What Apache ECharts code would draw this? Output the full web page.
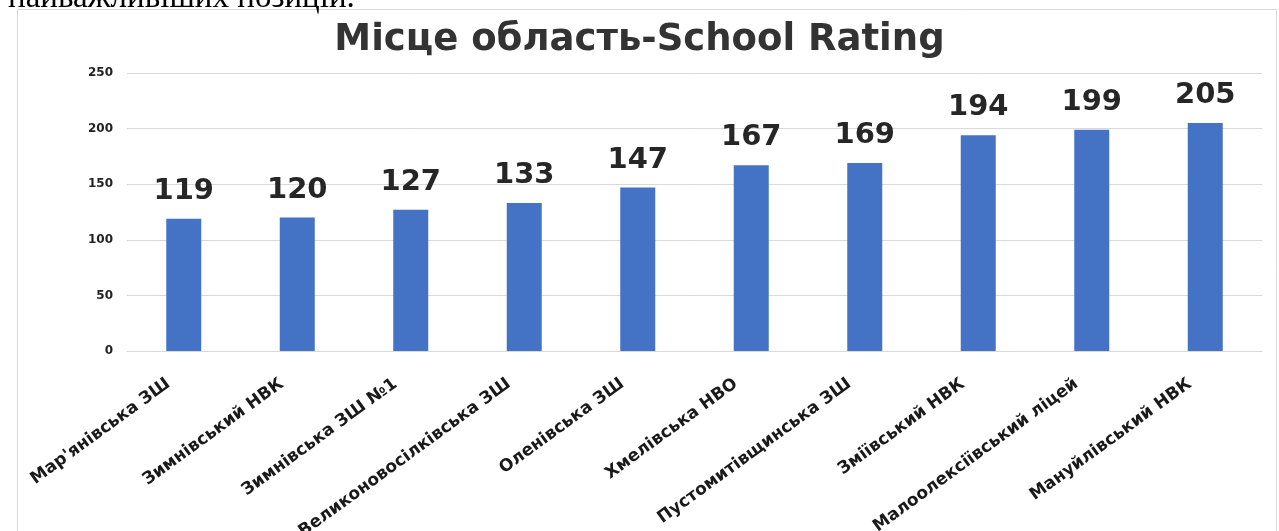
<!DOCTYPE html>
<html>
<head>
<meta charset="utf-8">
<script src="https://cdn.jsdelivr.net/npm/echarts@6/dist/echarts.min.js"></script>
<style>
  html, body { margin: 0; padding: 0; background: #fff; }
  #chart { width: 1279px; height: 531px; }
</style>
</head>
<body>
<div id="chart"></div>
<script>
// дані
const schools = [
  'Мар\'янівська ЗШ',
  'Зимнівський НВК',
  'Зимнівська ЗШ №1',
  'Великоновосілківська ЗШ',
  'Оленівська ЗШ',
  'Хмелівська НВО',
  'Пустомитівщинська ЗШ',
  'Зміївський НВК',
  'Малоолексіївський ліцей',
  'Мануйлівський НВК'
]
const rating = [119, 120, 127, 133, 147, 167, 169, 194, 199, 205]
const yTicks = [0, 50, 100, 150, 200, 250]

const chart = echarts.init(document.getElementById('chart'))

const option = {
  backgroundColor: '#fff',
  animation: false,
  title: {
    text: 'Місце область-School Rating',
    left: 'center',
    top: 17,
    textStyle: {
      fontFamily: 'DejaVu Sans',
      fontWeight: 'bold',
      fontSize: 37,
      color: '#333'
    }
  },
  graphic: [
    {
      type: 'text',
      left: 8,
      top: -18,
      style: {
        text: 'найважливіших позицій.',
        font: '33px "Liberation Serif"',
        fill: '#000'
      }
    },
    {
      type: 'rect',
      shape: { x: 17.5, y: 9.5, width: 1259, height: 540 },
      style: { fill: 'none', stroke: '#d9d9d9', lineWidth: 1 },
      z: -1
    }
  ],
  grid: {
    left: 127,
    right: 17,
    top: 73,
    bottom: 180,
    containLabel: false,
    outerBoundsMode: 'none'
  },
  xAxis: {
    type: 'category',
    data: schools,
    axisTick: { show: false },
    axisLine: { lineStyle: { color: '#d9d9d9' } },
    axisLabel: {
      interval: 0,
      rotate: 36,
      margin: 20,
      padding: [0, 19, 0, 0],
      fontFamily: 'DejaVu Sans',
      fontWeight: 'bold',
      fontSize: 17,
      color: '#1a1a1a'
    }
  },
  yAxis: {
    type: 'value',
    min: yTicks[0],
    max: yTicks[yTicks.length - 1],
    interval: 50,
    axisLine: { show: false },
    axisTick: { show: false },
    axisLabel: {
      margin: 14,
      fontFamily: 'DejaVu Sans',
      fontWeight: 'bold',
      fontSize: 12,
      color: '#222'
    },
    splitLine: { lineStyle: { color: '#d9d9d9' } }
  },
  series: [
    {
      type: 'bar',
      data: rating,
      barWidth: 35,
      itemStyle: { color: '#4472C4' },
      label: {
        show: true,
        position: 'top',
        distance: 13,
        fontFamily: 'DejaVu Sans',
        fontWeight: 'bold',
        fontSize: 29,
        color: '#262626'
      }
    }
  ]
}

chart.setOption(option)
</script>
</body>
</html>
